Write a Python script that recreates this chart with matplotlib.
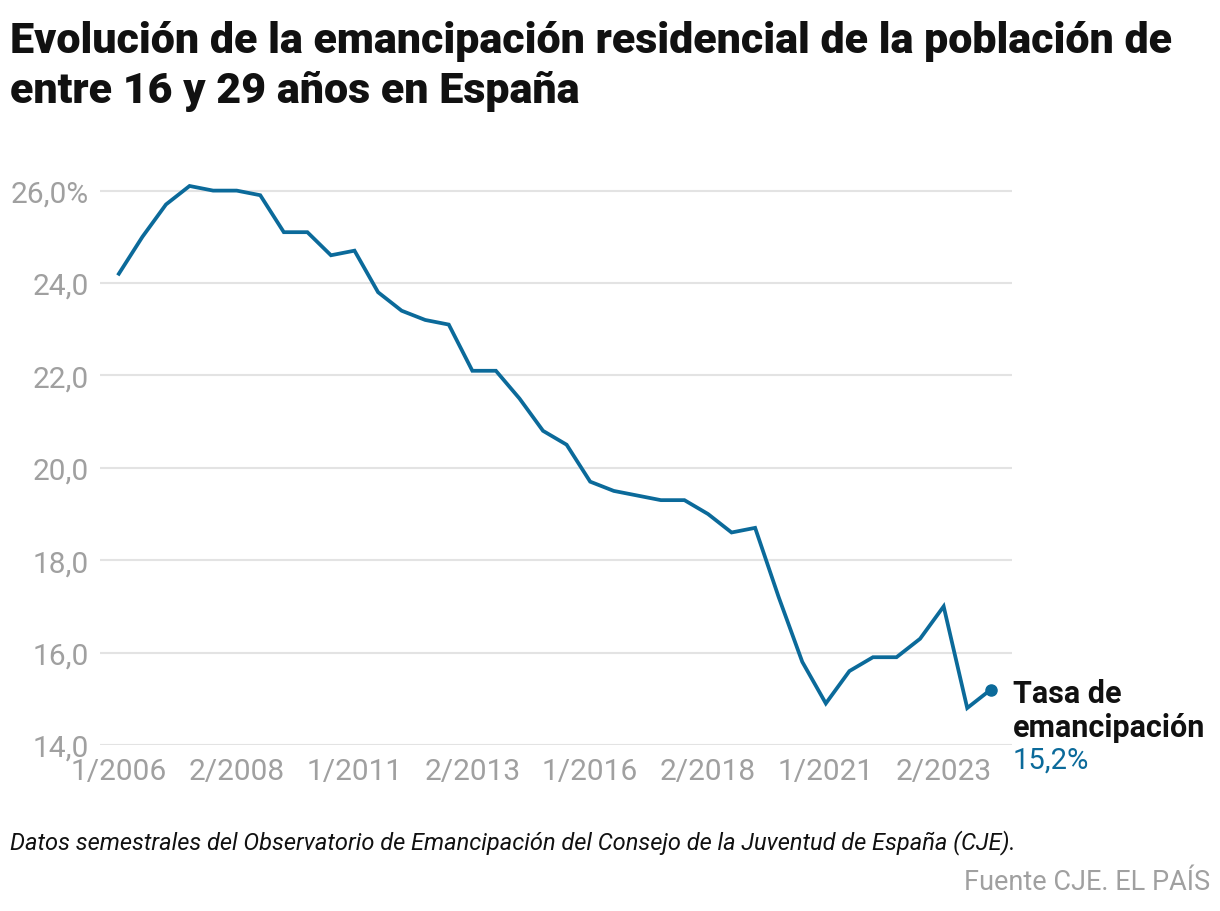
import numpy as np
import matplotlib
matplotlib.use("Agg")
import matplotlib.pyplot as plt

# -------------------------
# Data (semestral, 1/2006 .. 2/2024)
# -------------------------

periods = [f"{s}/{y}" for y in range(2006, 2025) for s in (1, 2)]

rate = [
    24.2, 25.0, 25.7, 26.1, 26.0, 26.0, 25.9, 25.1, 25.1, 24.6,
    24.7, 23.8, 23.4, 23.2, 23.1, 22.1, 22.1, 21.5, 20.8, 20.5,
    19.7, 19.5, 19.4, 19.3, 19.3, 19.0, 18.6, 18.7, 17.2, 15.8,
    14.9, 15.6, 15.9, 15.9, 16.3, 17.0, 14.8, 15.2,
]

tick_labels = ["1/2006", "2/2008", "1/2011", "2/2013",
               "1/2016", "2/2018", "1/2021", "2/2023"]

y_ticks = [14, 16, 18, 20, 22, 24, 26]

# -------------------------
# Style
# -------------------------

plt.rcParams["font.family"] = ["Roboto", "DejaVu Sans"]

blue = "#0b6a9a"
grey = "#a0a0a0"
grid_col = "#e3e3e3"

W, H = 1220, 912

fig = plt.figure(figsize=(W / 100, H / 100), dpi=100)

def fx(px):
    return px / W

def fy(py):
    return 1 - py / H

# axes: x from 100 to 1012 px, y 14.0 at 746 px, 46.2 px per unit
y_lo, y_hi = 14.0, 26.5
top_px = 746 - (y_hi - y_lo) * 46.2
ax = fig.add_axes([fx(100), fy(746), fx(1012) - fx(100), fy(top_px) - fy(746)])

x = np.arange(len(rate))

ax.plot(x, rate, color=blue, lw=2.7, solid_joinstyle="miter", zorder=3)
ax.plot(x[-1], rate[-1], "o", color=blue, ms=8, zorder=4, clip_on=False)

ax.set_xlim(-0.8, 37.9)
ax.set_ylim(y_lo, y_hi)

ax.set_yticks(y_ticks)
ax.set_yticklabels([f"{v:.1f}".replace(".", ",") + ("%" if v == 26 else "")
                    for v in y_ticks])
ax.set_xticks([periods.index(t) for t in tick_labels])
ax.set_xticklabels(tick_labels)

ax.tick_params(axis="both", length=0, labelcolor=grey)
ax.tick_params(axis="y", pad=8, labelsize=21.5)
ax.tick_params(axis="x", pad=9, labelsize=21.5)

ax.grid(axis="y", color=grid_col, lw=1.5)
ax.set_axisbelow(True)
for s in ax.spines.values():
    s.set_visible(False)

# -------------------------
# End label
# -------------------------

last_lbl = f"{rate[-1]:.1f}".replace(".", ",") + "%"
fig.text(fx(1013), fy(703), "Tasa de", ha="left", va="baseline",
         fontsize=22, fontweight="bold", color="#111111")
fig.text(fx(1013), fy(737), "emancipación", ha="left", va="baseline",
         fontsize=22, fontweight="bold", color="#111111")
fig.text(fx(1013), fy(769), last_lbl, ha="left", va="baseline",
         fontsize=21, color=blue)

# -------------------------
# Title and notes
# -------------------------

fig.text(fx(10), fy(53), "Evolución de la emancipación residencial de la población de",
         ha="left", va="baseline", fontsize=31, fontweight="black", color="#111111")
fig.text(fx(10), fy(103), "entre 16 y 29 años en España",
         ha="left", va="baseline", fontsize=31, fontweight="black", color="#111111")

fig.text(fx(10), fy(849),
         "Datos semestrales del Observatorio de Emancipación del Consejo de la Juventud de España (CJE).",
         ha="left", va="baseline", fontsize=17, style="italic", color="#111111")
fig.text(fx(1210), fy(890), "Fuente CJE. EL PAÍS",
         ha="right", va="baseline", fontsize=19.5, color=grey)

fig.savefig("out.png", dpi=100)
